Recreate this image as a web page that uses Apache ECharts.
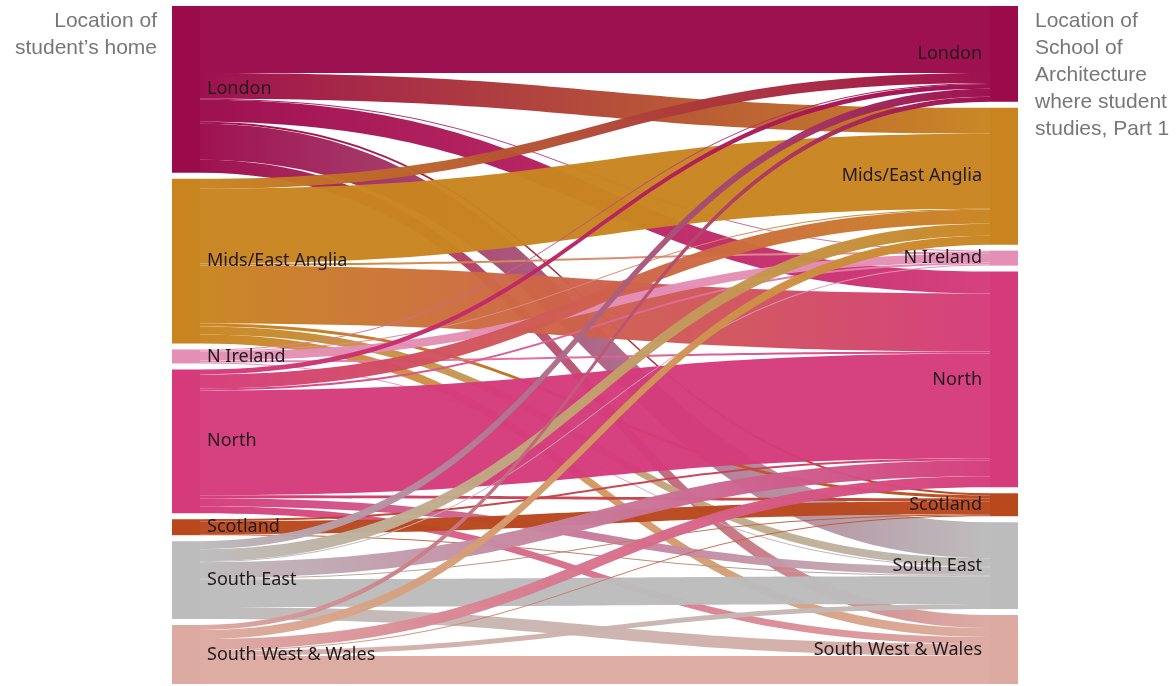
<!DOCTYPE html>
<html>
<head>
<meta charset="utf-8">
<title>Student home vs school location</title>
<script src="https://cdn.jsdelivr.net/npm/echarts@6/dist/echarts.min.js"></script>
<style>
  html, body { margin: 0; padding: 0; background: #fff; }
  #chart { width: 1176px; height: 686px; }
</style>
</head>
<body>
<div id="chart"></div>
<script>
// regions, same list on both sides
const regions = ['London', 'Mids/East Anglia', 'N Ireland', 'North', 'Scotland', 'South East', 'South West & Wales']
const regionColors = ['#9b0a4b', '#c8851f', '#e48fb5', '#d53b7b', '#b9481d', '#bcbcbc', '#dcaaa1']

// flows: one array per home region, values in the order of `regions` (school location)
const fromLondon = [67, 26, 1, 22, 2, 36, 13]
const fromMids = [10, 75, 2, 58, 3, 8, 9]
const fromNIreland = [1, 1, 9, 2, 0, 1, 0]
const fromNorth = [5, 14, 2, 105, 3, 8, 7]
const fromScotland = [0, 0, 0, 2, 13, 1, 0]
const fromSouthEast = [8, 12, 1, 16, 1, 28, 12]
const fromSouthWest = [5, 9, 0, 11, 1, 5, 28]

const flows = [fromLondon, fromMids, fromNIreland, fromNorth, fromScotland, fromSouthEast, fromSouthWest]

const nodes = []
regions.forEach((r, i) => {
  nodes.push({
    name: 'home:' + r,
    depth: 0,
    itemStyle: { color: regionColors[i] },
    label: { position: 'right', distance: 7 },
  })
})
regions.forEach((r, i) => {
  nodes.push({
    name: 'school:' + r,
    depth: 1,
    itemStyle: { color: regionColors[i] },
    label: { position: 'left', distance: 8 },
  })
})

const links = []
flows.forEach((row, i) => {
  row.forEach((v, j) => {
    if (v > 0) {
      links.push({ source: 'home:' + regions[i], target: 'school:' + regions[j], value: v })
    }
  })
})

const titleStyle = {
  fill: '#777777',
  fontFamily: 'Arial, "Liberation Sans", sans-serif',
  fontSize: 21,
  lineHeight: 27,
}

const chart = echarts.init(document.getElementById('chart'))

chart.setOption({
  backgroundColor: '#ffffff',
  animation: false,
  graphic: [
    {
      type: 'text',
      position: [157, 8],
      style: Object.assign({ text: 'Location of\nstudent’s home', textAlign: 'right' }, titleStyle),
    },
    {
      type: 'text',
      position: [1035, 8],
      style: Object.assign({ text: 'Location of\nSchool of\nArchitecture\nwhere student\nstudies, Part 1', textAlign: 'left' }, titleStyle),
    },
  ],
  series: [
    {
      type: 'sankey',
      left: 172,
      right: 158,
      top: 6,
      bottom: 2,
      nodeWidth: 28,
      nodeGap: 6,
      layoutIterations: 0,
      draggable: false,
      emphasis: { disabled: true },
      data: nodes,
      links: links,
      itemStyle: {
        borderWidth: 0,
      },
      lineStyle: {
        color: 'gradient',
        opacity: 0.97,
        curveness: 0.5,
      },
      label: {
        color: '#221a1e',
        fontFamily: '"Noto Sans", sans-serif',
        fontSize: 18,
        formatter: (p) => p.name.split(':')[1],
      },
    },
  ],
})
</script>
</body>
</html>
